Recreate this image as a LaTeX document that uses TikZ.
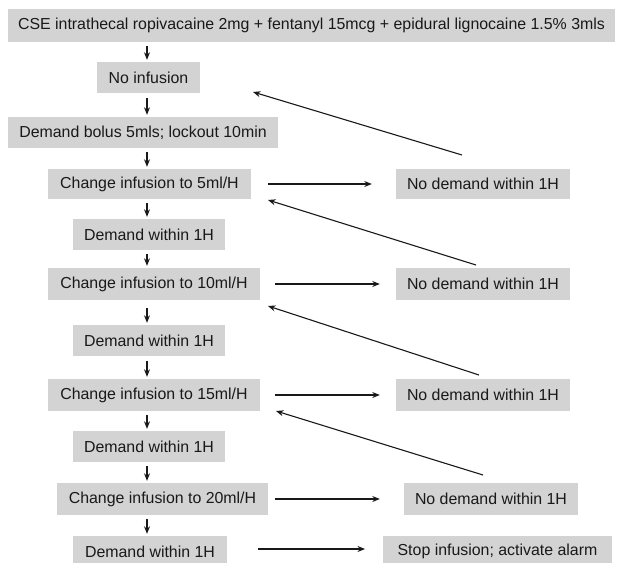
\documentclass[tikz,border=0pt]{standalone}
\usepackage{fontspec}
\setmainfont{Liberation Sans}
\usetikzlibrary{arrows.meta}
\definecolor{boxgray}{RGB}{211,211,211}
\definecolor{ink}{RGB}{25,25,25}
\begin{document}
\begin{tikzpicture}[x=1pt,y=-1pt,
  box/.style={fill=boxgray,draw=none,inner sep=0pt,text=ink,font=\fontsize{15.9}{18}\selectfont},
  arr/.style={draw=ink,line width=1.1pt,-{Stealth[length=7.5pt,width=6pt]}}]
\useasboundingbox[fill=white] (0,0) rectangle (620,562);
% helper to place box by corners
\newcommand{\bx}[6]{\node[box,minimum width={#4-#2},minimum height={#5-#3}] (#1) at ({(#2+#4)/2},{(#3+#5)/2}) {#6};}
\bx{top}{8}{9}{615}{42}{CSE intrathecal ropivacaine 2mg + fentanyl 15mcg + epidural lignocaine 1.5\% 3mls}
\bx{noinf}{97}{62}{200}{93}{No infusion}
\bx{bolus}{8}{117}{278}{148}{Demand bolus 5mls; lockout 10min}
\bx{cfive}{48}{169}{251}{199}{Change infusion to 5ml/H}
\bx{done}{73}{219}{225}{250}{Demand within 1H}
\bx{cten}{48}{268}{260}{300}{Change infusion to 10ml/H}
\bx{dtwo}{73}{325}{225}{356}{Demand within 1H}
\bx{cfifteen}{48}{379}{260}{411}{Change infusion to 15ml/H}
\bx{dthree}{73}{431}{225}{462}{Demand within 1H}
\bx{ctwenty}{57}{483}{268}{515}{Change infusion to 20ml/H}
\bx{dfour}{73}{536}{227}{567}{Demand within 1H}
\bx{none}{396}{169}{570}{199}{No demand within 1H}
\bx{ntwo}{396}{268}{570}{300}{No demand within 1H}
\bx{nthree}{396}{379}{570}{411}{No demand within 1H}
\bx{nfour}{404}{483}{578}{515}{No demand within 1H}
\bx{stop}{383}{536}{612}{567}{Stop infusion; activate alarm}
\coordinate (ax) at (147,0);
% vertical arrows
\draw[arr] ([yshift=-4pt]top.south -| ax) -- ([yshift=2pt]noinf.north -| ax);
\draw[arr] ([yshift=-5pt]noinf.south -| ax) -- ([yshift=2pt]bolus.north -| ax);
\draw[arr] ([yshift=-4pt]bolus.south -| ax) -- ([yshift=2pt]cfive.north -| ax);
\draw[arr] ([yshift=-4pt]cfive.south -| ax) -- ([yshift=2pt]done.north -| ax);
\draw[arr] ([yshift=-4pt]done.south -| ax) -- ([yshift=2pt]cten.north -| ax);
\draw[arr] ([yshift=-8pt]cten.south -| ax) -- ([yshift=2pt]dtwo.north -| ax);
\draw[arr] ([yshift=-5pt]dtwo.south -| ax) -- ([yshift=2pt]cfifteen.north -| ax);
\draw[arr] ([yshift=-4pt]cfifteen.south -| ax) -- ([yshift=2pt]dthree.north -| ax);
\draw[arr] ([yshift=-4pt]dthree.south -| ax) -- ([yshift=2pt]ctwenty.north -| ax);
\draw[arr] ([yshift=-4pt]ctwenty.south -| ax) -- ([yshift=2pt]dfour.north -| ax);
% horizontal arrows
\draw[arr] ([xshift=17pt]cfive.east) -- ([xshift=-24pt]none.west);
\draw[arr] ([xshift=15pt]cten.east) -- ([xshift=-16pt]ntwo.west);
\draw[arr] ([xshift=15pt]cfifteen.east) -- ([xshift=-16pt]nthree.west);
\draw[arr] ([xshift=7pt]ctwenty.east) -- ([xshift=-24pt]nfour.west);
\draw[arr] (258,549) coordinate (hs) -- (365,549) coordinate (he);
% diagonal return arrows
\coordinate (s1) at (462,155); \coordinate (e1) at (253,92);
\coordinate (s2) at (476,265); \coordinate (e2) at (268,200);
\coordinate (s3) at (479,375); \coordinate (e3) at (268,306);
\coordinate (s4) at (483,475); \coordinate (e4) at (276,411);
\draw[arr] (s1) -- (e1);
\draw[arr] (s2) -- (e2);
\draw[arr] (s3) -- (e3);
\draw[arr] (s4) -- (e4);
\end{tikzpicture}
\end{document}
